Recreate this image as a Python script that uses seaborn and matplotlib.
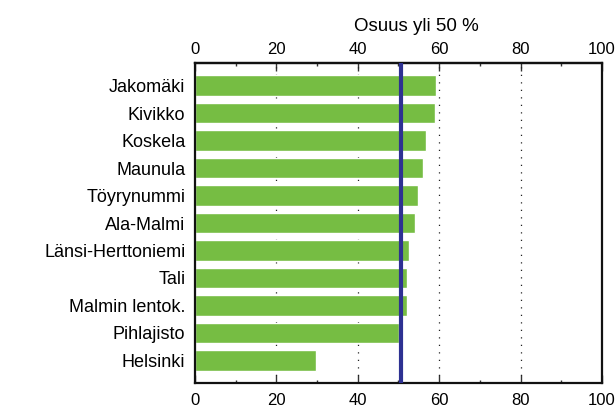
import matplotlib
matplotlib.use("Agg")
import matplotlib.pyplot as plt
from matplotlib.ticker import MultipleLocator
import seaborn as sns
import pandas as pd

# Share of residents above 50 % by district
districts = ["Jakomäki", "Kivikko", "Koskela", "Maunula", "Töyrynummi", "Ala-Malmi",
             "Länsi-Herttoniemi", "Tali", "Malmin lentok.", "Pihlajisto", "Helsinki"]
shares = [59.2, 59.0, 56.8, 56.0, 54.8, 54.1, 52.6, 52.1, 52.1, 50.1, 29.8]
reference_value = 50.5
x_ticks = [0, 20, 40, 60, 80, 100]

sns.set_theme(style="white")
plt.rcParams["font.family"] = ["Liberation Sans", "DejaVu Sans"]
plt.rcParams["text.color"] = "black"
plt.rcParams["xtick.labelcolor"] = "black"
plt.rcParams["ytick.labelcolor"] = "black"

df = pd.DataFrame({"alue": districts, "osuus": shares})

fig = plt.figure(figsize=(6.15, 4.09), dpi=100)
ax = fig.add_axes([195 / 615, 1 - 383 / 409, 407 / 615, 320 / 409])

sns.barplot(data=df, x="osuus", y="alue", orient="h", color="#76bd43",
            saturation=1, width=0.76, ax=ax, zorder=2)

ax.axvline(reference_value, color="#2e3192", linewidth=3.0, zorder=3)

ax.set_xlim(0, 100)
ax.set_ylim(10.82, -0.82)
ax.set_xticks(x_ticks)
ax.xaxis.set_minor_locator(MultipleLocator(10))
for g in x_ticks[1:-1]:
    ax.axvline(g, color="#222222", linewidth=0.9, linestyle=(0, (1, 5)), zorder=1)

# bottom axis
ax.tick_params(axis="x", which="major", direction="in", length=5.5, width=1,
               top=False, bottom=True, labeltop=False, labelbottom=True,
               labelsize=12, pad=7.5, color="#333333")
ax.tick_params(axis="x", which="minor", direction="in", length=2.5, width=1,
               top=False, bottom=True, color="#333333")
ax.tick_params(axis="y", which="both", left=False, length=0, labelsize=13, pad=7)

# mirrored top axis
top = ax.secondary_xaxis("top")
top.set_xticks(x_ticks)
top.xaxis.set_minor_locator(MultipleLocator(10))
top.tick_params(axis="x", which="major", direction="in", length=5.5, width=1,
                labelsize=12, pad=4.5, color="#333333", labelcolor="black")
top.tick_params(axis="x", which="minor", direction="in", length=2.5, width=1,
                color="#333333")
top.spines["top"].set_color("#111111")
top.spines["top"].set_linewidth(1.6)

ax.set_xlabel("")
ax.set_ylabel("")
for s in ax.spines.values():
    s.set_visible(True)
    s.set_color("#111111")
    s.set_linewidth(1.6)

ax.text(0.545, 1.115, "Osuus yli 50 %", transform=ax.transAxes,
        ha="center", va="center", fontsize=13.5)

fig.savefig("out.png", dpi=100)
